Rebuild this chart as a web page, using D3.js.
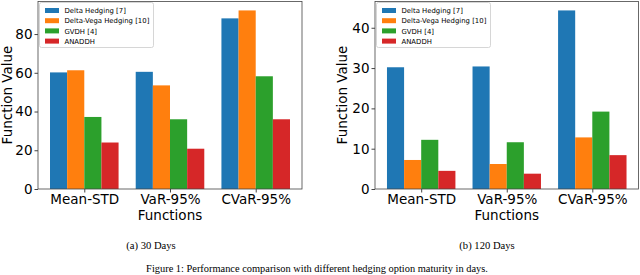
<!DOCTYPE html>
<html><head><meta charset="utf-8">
<script src="https://cdn.jsdelivr.net/npm/d3@7"></script>
<style>body{margin:0;background:#fff}svg{display:block}</style>
</head><body>
<svg id="c" width="640" height="275"></svg>
<script>
const categories = ["Mean-STD", "VaR-95%", "CVaR-95%"];
const seriesNames = ["Delta Hedging [7]", "Delta-Vega Hedging [10]", "GVDH [4]", "ANADDH"];
const colors = ["#1f77b4", "#ff7f0e", "#2ca02c", "#d62728"];
// 30 days
const delta30 = [60.2, 60.5, 88.1];
const deltaVega30 = [61.3, 53.5, 92.2];
const gvdh30 = [37.2, 36.0, 58.2];
const anaddh30 = [24.0, 20.8, 36.0];
const yTicks30 = [0, 20, 40, 60, 80];
// 120 days
const delta120 = [30.2, 30.4, 44.3];
const deltaVega120 = [7.2, 6.2, 12.8];
const gvdh120 = [12.2, 11.6, 19.2];
const anaddh120 = [4.5, 3.8, 8.4];
const yTicks120 = [0, 10, 20, 30, 40];

const svg = d3.select("#c");

function panel(x0, x1, series, ticks, ylabX, caption, capX) {
  const yBottom = 189, yTop = 1.5;
  const maxV = d3.max(series.flat());
  const x = d3.scaleLinear().domain([-0.54, 2.54]).range([x0, x1]);
  const y = d3.scaleLinear().domain([0, maxV * 1.05]).range([yBottom, yTop]);
  const g = svg.append("g");
  const bw = 0.2;
  series.forEach((vals, si) => {
    g.selectAll(null).data(vals).enter().append("rect")
      .attr("x", (d, i) => x(i + (si - 2) * bw))
      .attr("width", (d, i) => x(i + (si - 1) * bw) - x(i + (si - 2) * bw))
      .attr("y", d => y(d))
      .attr("height", d => y(0) - y(d))
      .attr("fill", colors[si]);
  });
  // frame
  g.append("rect").attr("x", x0).attr("y", yTop).attr("width", x1 - x0).attr("height", yBottom - yTop)
    .attr("fill", "none").attr("stroke", "#444").attr("stroke-width", 0.8);
  // y axis
  const ya = g.append("g").attr("transform", `translate(${x0},0)`)
    .call(d3.axisLeft(y).tickValues(ticks).tickSize(3.5).tickPadding(2));
  ya.select(".domain").remove();
  ya.selectAll("text").attr("font-family", "DejaVu Sans").attr("font-size", 13.5).attr("fill", "#000");
  ya.selectAll("line").attr("stroke", "#444");
  // x axis
  const xa = g.append("g").attr("transform", `translate(0,${yBottom})`)
    .call(d3.axisBottom(x).tickValues([0, 1, 2]).tickFormat(i => categories[i]).tickSize(3.5).tickPadding(1.5));
  xa.select(".domain").remove();
  xa.selectAll("text").attr("font-family", "DejaVu Sans").attr("font-size", 13.5).attr("fill", "#000");
  xa.selectAll("line").attr("stroke", "#444");
  // x label
  g.append("text").attr("x", x(1)).attr("y", 220).attr("text-anchor", "middle")
    .attr("font-family", "DejaVu Sans").attr("font-size", 13.5).text("Functions");
  // y label
  g.append("text").attr("transform", `translate(${ylabX},95) rotate(-90)`).attr("text-anchor", "middle")
    .attr("font-family", "DejaVu Sans").attr("font-size", 13.5).text("Function Value");
  // legend
  const lx = x0 + 1.5, ly = 2.5;
  const lg = g.append("g").attr("transform", `translate(${lx},${ly})`);
  lg.append("rect").attr("width", 114).attr("height", 45).attr("rx", 2)
    .attr("fill", "#fff").attr("fill-opacity", 0.8).attr("stroke", "#ccc").attr("stroke-width", 0.8);
  seriesNames.forEach((n, i) => {
    lg.append("rect").attr("x", 5.5).attr("y", 5.5 + i * 10.2).attr("width", 14).attr("height", 5).attr("fill", colors[i]);
    lg.append("text").attr("x", 25).attr("y", 10.6 + i * 10.2).attr("font-family", "DejaVu Sans")
      .attr("font-size", 6.9).text(n);
  });
  // caption
  svg.append("text").attr("x", capX).attr("y", 248.5).attr("text-anchor", "middle")
    .attr("font-family", "Liberation Serif").attr("font-size", 10.6).text(caption);
}

panel(38, 302, [delta30, deltaVega30, gvdh30, anaddh30], yTicks30, 12, "(a) 30 Days", 151);
panel(375, 638.5, [delta120, deltaVega120, gvdh120, anaddh120], yTicks120, 347, "(b) 120 Days", 487);

svg.append("text").attr("x", 317).attr("y", 271.5).attr("text-anchor", "middle")
  .attr("font-family", "Liberation Serif").attr("font-size", 10.4)
  .text("Figure 1: Performance comparison with different hedging option maturity in days.");
</script>
</body></html>
